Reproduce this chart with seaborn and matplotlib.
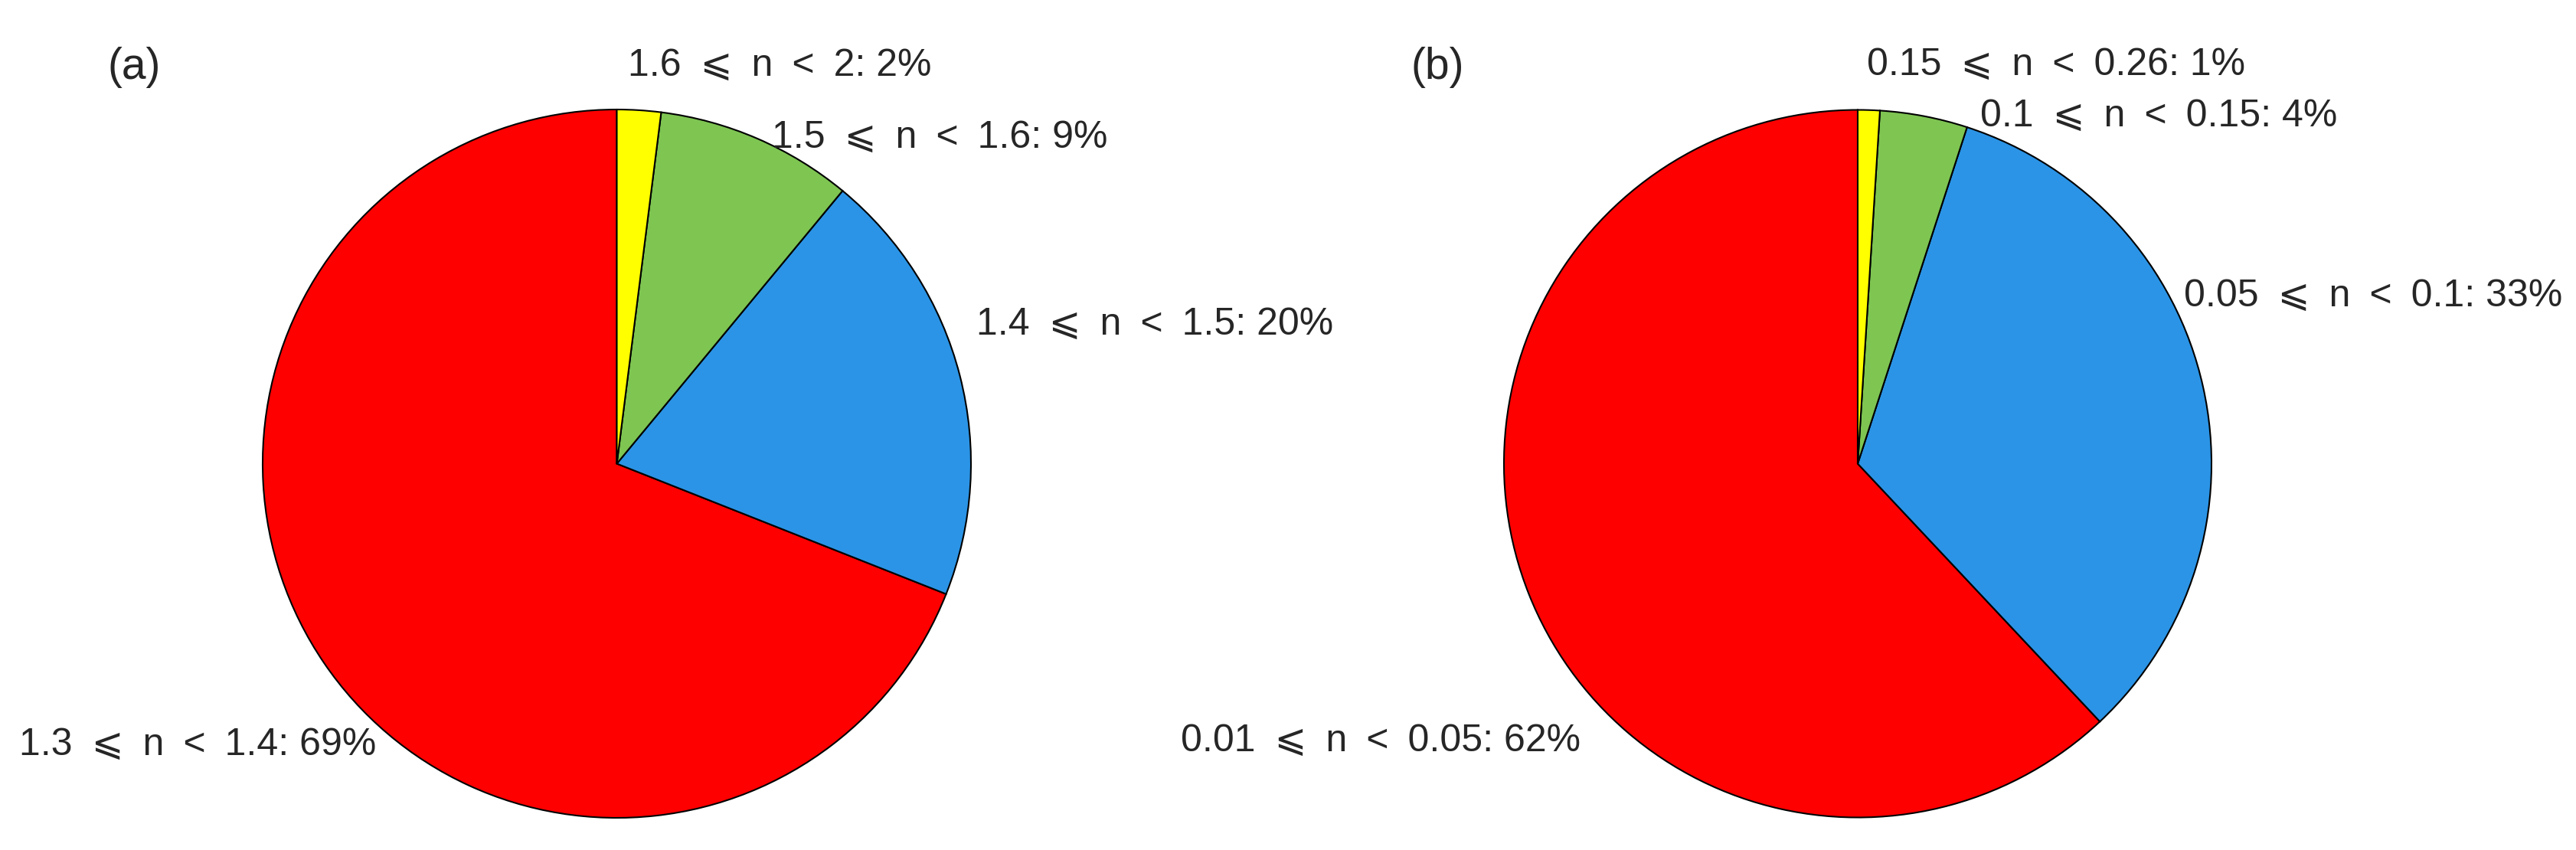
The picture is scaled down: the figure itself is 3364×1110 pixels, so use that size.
import numpy as np
import pandas as pd
import matplotlib
matplotlib.use('Agg')
import matplotlib.pyplot as plt
import seaborn as sns

# data for the two pies (slices go counter-clockwise from the top)
labels_a = ['1.3 ⩽ n < 1.4', '1.4 ⩽ n < 1.5', '1.5 ⩽ n < 1.6', '1.6 ⩽ n < 2']
share_a = [69, 20, 9, 2]

labels_b = ['0.01 ⩽ n < 0.05', '0.05 ⩽ n < 0.1', '0.1 ⩽ n < 0.15', '0.15 ⩽ n < 0.26']
share_b = [62, 33, 4, 1]

slice_colors = ['#ff0000', '#2b94e6', '#7ec552', '#ffff00']

sns.set_theme(style='white')
plt.rcParams['font.family'] = ['Liberation Sans', 'DejaVu Sans']

W, H = 3364, 1110
fig = plt.figure(figsize=(W / 100, H / 100), dpi=100)

# label anchors in pie units (radius = 1), with alignment
spots_a = [(-0.680, -0.795, 'right'), (1.015, 0.392, 'left'),
           (0.438, 0.920, 'left'), (0.031, 1.123, 'left')]
spots_b = [(-0.784, -0.784, 'right'), (0.922, 0.473, 'left'),
           (0.346, 0.981, 'left'), (0.026, 1.126, 'left')]


def widen(txt):
    # the original labels have roomier gaps around the relation signs
    return txt.replace(' ⩽ ', '\u2002⩽\u2002').replace(' < ', '\u2002<\u2002')


def draw_pie(cx, cy, r, labels, share, spots, tag, tag_x):
    ax = fig.add_axes([(cx - r) / W, (H - cy - r) / H, 2 * r / W, 2 * r / H])
    df = pd.DataFrame({'label': labels, 'share': share})
    ax.pie(df['share'], colors=sns.color_palette(slice_colors), startangle=90,
           counterclock=True, radius=1,
           wedgeprops=dict(edgecolor='black', linewidth=1.5))
    for (x, y, ha), lab, s in zip(spots, df['label'], df['share']):
        ax.text(x, y, widen(f'{lab}: {s}%'), ha=ha, va='center', fontsize=36,
                clip_on=False)
    ax.set_xlim(-1, 1)
    ax.set_ylim(-1, 1)
    ax.set_aspect('equal')
    ax.axis('off')
    fig.text(tag_x / W, 1 - 88 / H, tag, ha='left', va='center', fontsize=41)


draw_pie(805.5, 605.5, 462.5, labels_a, share_a, spots_a, '(a)', 141)
draw_pie(2426, 605.5, 462, labels_b, share_b, spots_b, '(b)', 1843)

plt.savefig('out.png', dpi=100)
